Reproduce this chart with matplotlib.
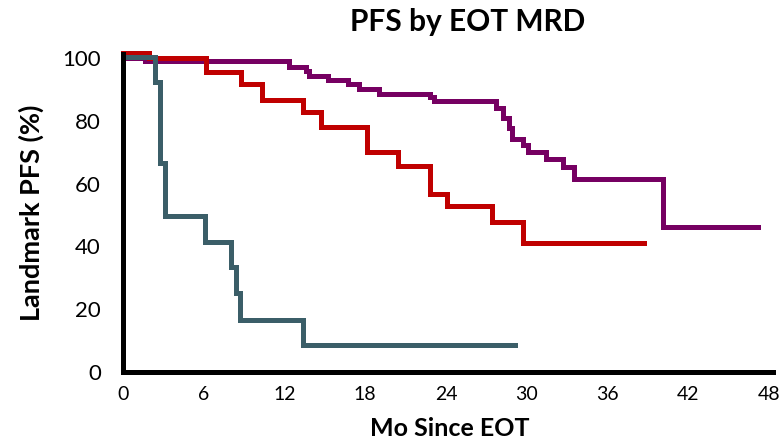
import matplotlib
matplotlib.use("Agg")
import matplotlib.pyplot as plt

plt.rcParams['font.family'] = ['Lato', 'DejaVu Sans']

# Kaplan-Meier style step data (months since EOT, landmark PFS %)
purple_t = [0, 1.6, 12.3, 13.6, 13.8, 15.2, 16.7, 17.5, 19.0, 22.8, 23.1, 27.7, 28.2, 28.7, 28.9, 29.7, 30.1, 31.4, 32.7, 33.5, 40.1, 47.2]
purple_s = [100, 99.2, 97.2, 96.0, 94.4, 93.0, 91.7, 90.1, 88.6, 87.6, 86.2, 84.0, 80.9, 77.7, 74.2, 72.3, 70.0, 67.8, 65.3, 61.4, 46.3, 46.3]

red_t = [0, 1.9, 6.2, 8.8, 10.3, 13.4, 14.7, 18.1, 20.4, 22.8, 24.1, 27.4, 29.7, 38.7]
red_s = [101.5, 100, 95.5, 91.7, 86.6, 82.8, 78.0, 70.0, 65.6, 56.7, 52.9, 47.8, 41.1, 41.1]

teal_t = [0, 2.4, 2.75, 3.1, 6.1, 8.0, 8.4, 8.7, 13.4, 29.1]
teal_s = [100.3, 92.3, 66.5, 49.8, 41.4, 33.4, 25.2, 16.6, 8.6, 8.6]

x_ticks = [0, 6, 12, 18, 24, 30, 36, 42, 48]
y_ticks = [0, 20, 40, 60, 80, 100]

fig = plt.figure(figsize=(7.84, 4.41), dpi=100)
ax = fig.add_axes([123/784, 1 - 372/441, (773 - 123)/784, (372 - 54)/441])

lw = 3.6
ax.step(purple_t, purple_s, where='post', color='#760062', lw=lw, clip_on=False, solid_joinstyle='miter')
ax.step(red_t, red_s, where='post', color='#C00000', lw=lw, clip_on=False, solid_joinstyle='miter')
ax.step(teal_t, teal_s, where='post', color='#3B5E68', lw=lw, clip_on=False, solid_joinstyle='miter')

ax.set_xlim(0, 48.3)
ax.set_ylim(0, 101.3)
ax.set_xticks(x_ticks)
ax.set_yticks(y_ticks)

for side in ['top', 'right']:
    ax.spines[side].set_visible(False)
for side in ['left', 'bottom']:
    ax.spines[side].set_linewidth(3.6)
    ax.spines[side].set_color('black')
    ax.spines[side].set_zorder(5)

ax.tick_params(axis='both', direction='in', length=2.5, width=1.5, color='white')
ax.tick_params(axis='x', labelsize=14, pad=10)
ax.tick_params(axis='y', labelsize=16, pad=16)
for t in ax.get_xticklines() + ax.get_yticklines():
    t.set_zorder(6)

fig.text(450/784, 1 - 429/441, 'Mo Since EOT', fontsize=18, fontweight='bold',
         ha='center', va='center')
fig.text(31/784, 1 - 213/441, 'Landmark PFS (%)', fontsize=19.5, fontweight='bold',
         ha='center', va='center', rotation=90)
fig.text(468/784, 1 - 22/441, 'PFS by EOT MRD', fontsize=21.5, fontweight='bold',
         ha='center', va='center')

fig.savefig('out.png', dpi=100)
